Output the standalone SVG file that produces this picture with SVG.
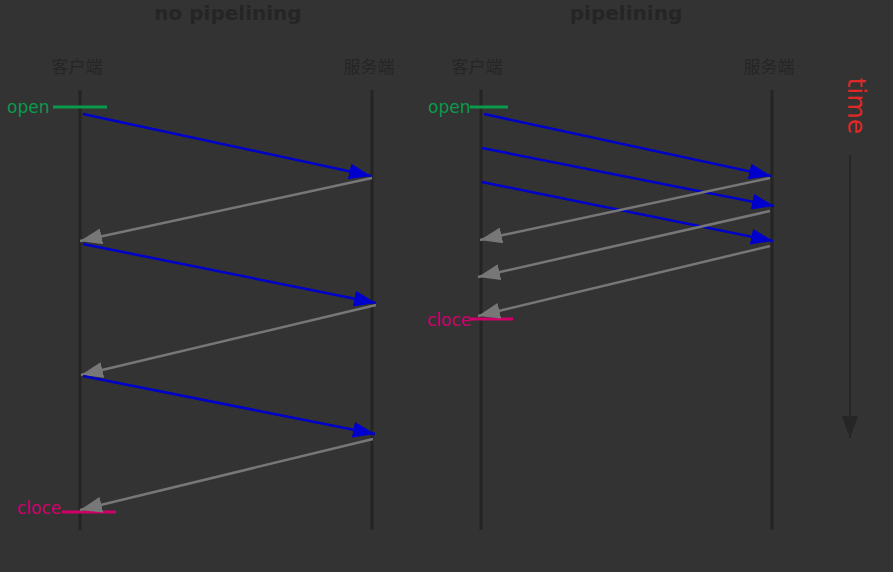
<svg xmlns="http://www.w3.org/2000/svg" width="893" height="572" viewBox="0 0 893 572">
<style>
.title{font-family:"DejaVu Sans",sans-serif;font-weight:bold;font-size:20px;fill:#252525;text-anchor:middle}
.actor{font-family:"Noto Sans CJK SC","DejaVu Sans",sans-serif;font-size:17px;fill:#252525;text-anchor:middle}
.life{stroke:#242424;stroke-width:3}
.open{font-family:"DejaVu Sans",sans-serif;font-size:17px;fill:#0a9a4c}
.close{font-family:"DejaVu Sans",sans-serif;font-size:17px;fill:#d0006a}
.openl{stroke:#0a9a4c;stroke-width:3}
.closel{stroke:#d0006a;stroke-width:3}
.req{stroke:#0000cc;stroke-width:2.5;fill:none;marker-end:url(#bh)}
.resp{stroke:#777;stroke-width:2.5;fill:none;marker-end:url(#gh)}
</style>
<defs>
<marker id="bh" viewBox="0 0 22 16" refX="22" refY="8" markerWidth="22" markerHeight="16" markerUnits="userSpaceOnUse" orient="auto"><path d="M0,0 L22,8 L0,16 Z" fill="#0000cc"/></marker>
<marker id="gh" viewBox="0 0 22 16" refX="22" refY="8" markerWidth="22" markerHeight="16" markerUnits="userSpaceOnUse" orient="auto"><path d="M0,0 L22,8 L0,16 Z" fill="#777"/></marker>
<marker id="th" viewBox="0 0 22 16" refX="22" refY="8" markerWidth="22" markerHeight="16" markerUnits="userSpaceOnUse" orient="auto"><path d="M0,0 L22,8 L0,16 Z" fill="#262626"/></marker>
</defs>
<rect width="893" height="572" fill="#333333"/>
<text class="title" x="228" y="20">no pipelining</text>
<text class="title" x="626" y="20">pipelining</text>
<g id="client1"><text class="actor" x="77" y="73">客户端</text><line class="life" x1="80" y1="90" x2="80" y2="530"/></g>
<g id="server1"><text class="actor" x="369" y="73">服务端</text><line class="life" x1="372" y1="90" x2="372" y2="530"/></g>
<g id="client2"><text class="actor" x="477" y="73">客户端</text><line class="life" x1="481" y1="90" x2="481" y2="530"/></g>
<g id="server2"><text class="actor" x="769" y="73">服务端</text><line class="life" x1="772" y1="90" x2="772" y2="530"/></g>
<g id="open1"><text class="open" x="7" y="113">open</text><line class="openl" x1="53" y1="107" x2="107" y2="107"/></g>
<g id="open2"><text class="open" x="428" y="113">open</text><line class="openl" x1="470" y1="107" x2="508" y2="107"/></g>
<g id="close1"><text class="close" x="17" y="514">cloce</text><line class="closel" x1="62" y1="512" x2="116" y2="512"/></g>
<g id="close2"><text class="close" x="427" y="326">cloce</text><line class="closel" x1="470" y1="319" x2="513" y2="319"/></g>
<g id="time"><text x="841" y="107" transform="rotate(90 848 107) translate(6 0)" style="font-family:'DejaVu Sans',sans-serif;font-size:25px;fill:#e02828;text-anchor:middle">time</text></g>
<g id="connectors">
<line class="req" x1="83" y1="114" x2="371" y2="176"/>
<line class="resp" x1="372" y1="178" x2="80" y2="241"/>
<line class="req" x1="83" y1="244" x2="376" y2="303"/>
<line class="resp" x1="376" y1="305" x2="81" y2="375"/>
<line class="req" x1="83" y1="376" x2="375" y2="434"/>
<line class="resp" x1="373" y1="439" x2="80" y2="510"/>
<line class="req" x1="484" y1="114" x2="771" y2="176"/>
<line class="req" x1="482" y1="148" x2="774" y2="206"/>
<line class="req" x1="482" y1="182" x2="773" y2="241"/>
<line class="resp" x1="770" y1="178" x2="480" y2="240"/>
<line class="resp" x1="770" y1="211" x2="478" y2="277"/>
<line class="resp" x1="770" y1="246" x2="478" y2="316"/>
<line x1="850" y1="155" x2="850" y2="438" stroke="#262626" stroke-width="2" marker-end="url(#th)"/>
</g>
</svg>
